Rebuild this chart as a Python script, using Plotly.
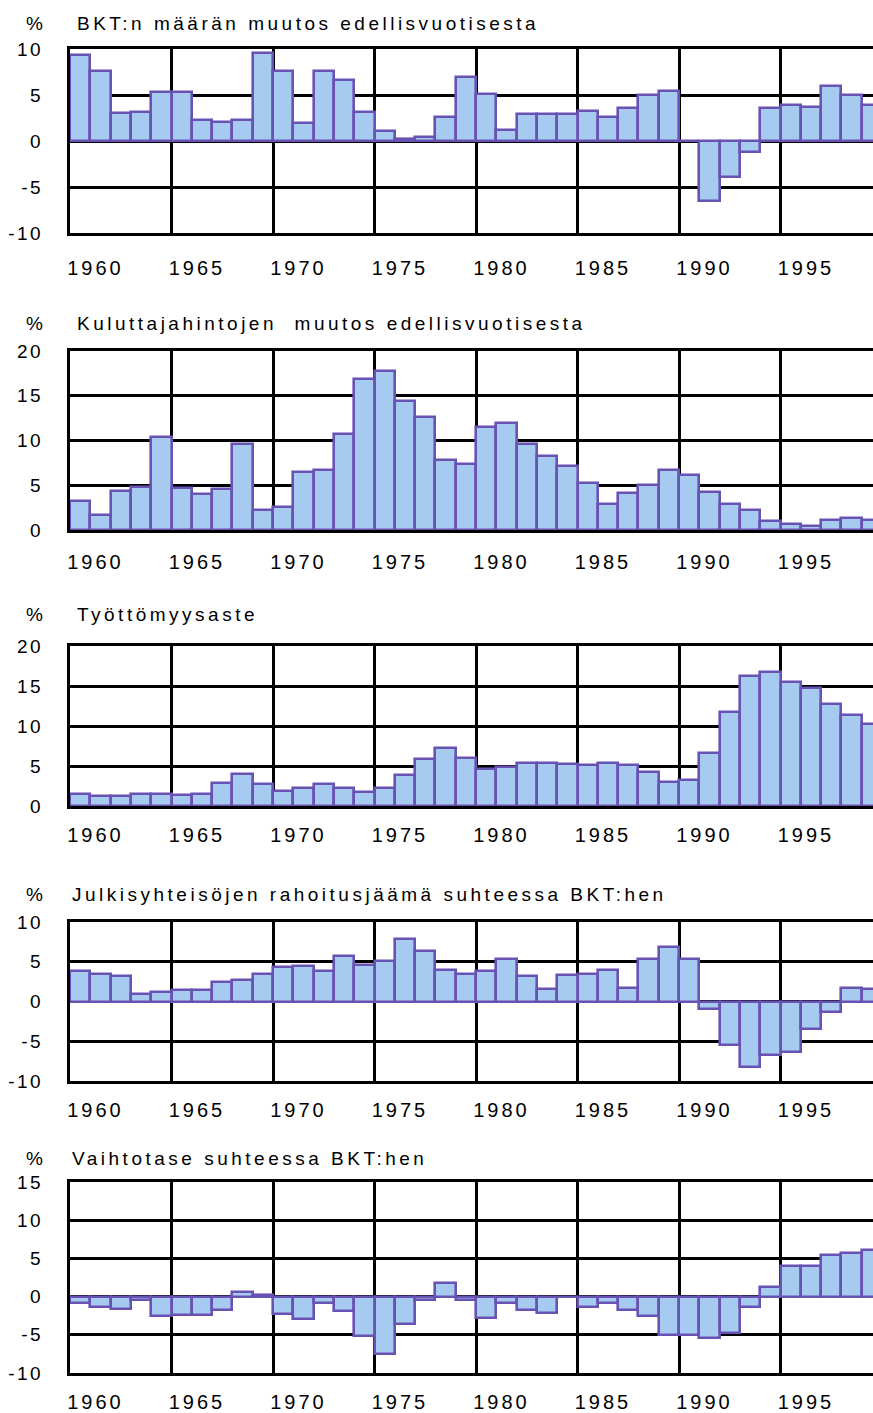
import plotly.graph_objects as go

# ---------------- data ----------------
years = list(range(1960, 2000))
label_years = [1960, 1965, 1970, 1975, 1980, 1985, 1990, 1995]

titles = [
    "BKT:n määrän muutos edellisvuotisesta",
    "Kuluttajahintojen  muutos edellisvuotisesta",
    "Työttömyysaste",
    "Julkisyhteisöjen rahoitusjäämä suhteessa BKT:hen",
    "Vaihtotase suhteessa BKT:hen",
]

gdp_growth = [9.3, 7.6, 3.0, 3.2, 5.3, 5.3, 2.3, 2.1, 2.3, 9.6,
              7.6, 2.0, 7.6, 6.6, 3.1, 1.1, 0.2, 0.4, 2.6, 7.0,
              5.1, 1.2, 2.9, 2.9, 2.9, 3.3, 2.6, 3.6, 5.0, 5.4,
              0.0, -6.5, -3.9, -1.2, 3.6, 3.9, 3.7, 6.0, 5.0, 3.9]

consumer_prices = [3.2, 1.7, 4.4, 4.8, 10.4, 4.7, 4.0, 4.6, 9.6, 2.2,
                   2.6, 6.5, 6.7, 10.7, 16.9, 17.8, 14.4, 12.6, 7.8, 7.4,
                   11.5, 12.0, 9.6, 8.3, 7.1, 5.2, 2.9, 4.1, 5.0, 6.7,
                   6.2, 4.2, 2.9, 2.2, 1.0, 0.7, 0.5, 1.1, 1.3, 1.1]

unemployment = [1.5, 1.2, 1.2, 1.5, 1.5, 1.4, 1.5, 2.9, 4.0, 2.8,
                1.9, 2.3, 2.7, 2.3, 1.7, 2.3, 3.9, 5.9, 7.3, 6.0,
                4.6, 4.9, 5.4, 5.4, 5.2, 5.1, 5.4, 5.1, 4.2, 3.0,
                3.2, 6.6, 11.7, 16.3, 16.8, 15.5, 14.7, 12.7, 11.4, 10.2]

public_balance = [3.8, 3.4, 3.2, 0.9, 1.2, 1.4, 1.4, 2.5, 2.75, 3.4,
                  4.3, 4.45, 3.85, 5.7, 4.6, 5.1, 7.9, 6.4, 4.0, 3.4,
                  3.85, 5.3, 3.2, 1.6, 3.3, 3.5, 4.0, 1.7, 5.3, 6.9,
                  5.4, -1.0, -5.5, -8.3, -6.7, -6.3, -3.5, -1.3, 1.7, 1.6]

current_account = [-0.9, -1.3, -1.6, -0.4, -2.6, -2.35, -2.35, -1.8, 0.65, 0.2,
                   -2.25, -2.9, -0.8, -1.9, -5.1, -7.5, -3.6, -0.4, 1.75, -0.5,
                   -2.8, -0.85, -1.75, -2.2, 0.0, -1.4, -0.9, -1.8, -2.5, -5.0,
                   -5.0, -5.4, -4.7, -1.4, 1.2, 4.05, 4.05, 5.45, 5.65, 6.1]

yticks_1 = [-10, -5, 0, 5, 10]
yticks_2 = [0, 5, 10, 15, 20]
yticks_3 = [0, 5, 10, 15, 20]
yticks_4 = [-10, -5, 0, 5, 10]
yticks_5 = [-10, -5, 0, 5, 10, 15]

series = [gdp_growth, consumer_prices, unemployment, public_balance, current_account]
yticks_all = [yticks_1, yticks_2, yticks_3, yticks_4, yticks_5]

# ---------------- style / layout ----------------
W, H = 873, 1413
LEFT = 70
PX_PER_YEAR = 20.3
FILL = "#A6CAF0"
EDGE = "#6852B4"
FONT = "Liberation Sans, Arial, sans-serif"

# pixel geometry of each panel: plot top, plot bottom, title centre, title left, x-label standoff
geom = [
    dict(top=49, bottom=233, title_y=23, title_x=75, xstand=15),
    dict(top=351, bottom=530, title_y=323, title_x=75, xstand=12),
    dict(top=646, bottom=806, title_y=614, title_x=75, xstand=9),
    dict(top=922, bottom=1081, title_y=894, title_x=70, xstand=9),
    dict(top=1182, bottom=1373, title_y=1158, title_x=70, xstand=9),
]


def spaced(text, px):
    return f'<span style="letter-spacing:{px}px">{text}</span>'


x_start = years[0] - 0.5
x_end = x_start + (W - LEFT) / PX_PER_YEAR
grid_x = [y - 0.5 for y in label_years[1:]]
label_x = [y + 0.75 for y in label_years]
label_text = [spaced(str(y), 3) for y in label_years]

fig = go.Figure()
annotations = []
for i, (title, vals, yt, g) in enumerate(zip(titles, series, yticks_all, geom)):
    n = i + 1
    xa = "x" if n == 1 else f"x{n}"
    ya = "y" if n == 1 else f"y{n}"
    fig.add_trace(go.Bar(
        x=years, y=vals, xaxis=xa, yaxis=ya, width=1,
        marker=dict(color=FILL, line=dict(color=EDGE, width=2.6)),
        showlegend=False,
    ))
    xkey = "xaxis" if n == 1 else f"xaxis{n}"
    ykey = "yaxis" if n == 1 else f"yaxis{n}"
    fig.layout[xkey] = dict(
        domain=[0, 1], anchor=ya, range=[x_start, x_end],
        tickmode="array", tickvals=label_x, ticktext=label_text,
        showgrid=False, zeroline=False, automargin=False,
        minor=dict(tickmode="array", tickvals=grid_x, showgrid=True,
                   gridcolor="black", gridwidth=2.6, ticks=""),
        showline=True, mirror=True, linecolor="black", linewidth=3,
        ticks="", ticklabelstandoff=g["xstand"],
        tickfont=dict(family=FONT, size=20, color="black"),
        fixedrange=True,
    )
    fig.layout[ykey] = dict(
        domain=[1 - g["bottom"] / H, 1 - g["top"] / H], anchor=xa,
        range=[yt[0], yt[-1]], automargin=False,
        tickmode="array", tickvals=yt, ticktext=[spaced(str(v), 2.5) for v in yt],
        showgrid=True, gridcolor="black", gridwidth=2.6,
        zeroline=True, zerolinecolor="black", zerolinewidth=2.6,
        showline=True, linecolor="black", linewidth=3,
        ticks="", ticklabelstandoff=20,
        tickfont=dict(family=FONT, size=19, color="black"),
        fixedrange=True,
    )
    yp = 1 - g["title_y"] / H
    annotations.append(dict(
        text="%", xref="paper", yref="paper", x=(34 - LEFT) / (W - LEFT), y=yp,
        xanchor="center", yanchor="middle", showarrow=False,
        font=dict(family=FONT, size=19, color="black"),
    ))
    annotations.append(dict(
        text=spaced(title, 3.5), xref="paper", yref="paper",
        x=(g["title_x"] - LEFT) / (W - LEFT), y=yp,
        xanchor="left", yanchor="middle", showarrow=False,
        font=dict(family=FONT, size=19, color="black"),
    ))

fig.update_layout(
    width=W, height=H, autosize=False,
    margin=dict(l=LEFT, r=0, t=0, b=0, pad=0, autoexpand=False),
    paper_bgcolor="white", plot_bgcolor="white",
    bargap=0,
    annotations=annotations,
    font=dict(family=FONT, color="black"),
)

fig.write_html(
    "out.html",
    config={"displayModeBar": False, "responsive": False},
    post_script="document.body.style.margin='0';",
)
